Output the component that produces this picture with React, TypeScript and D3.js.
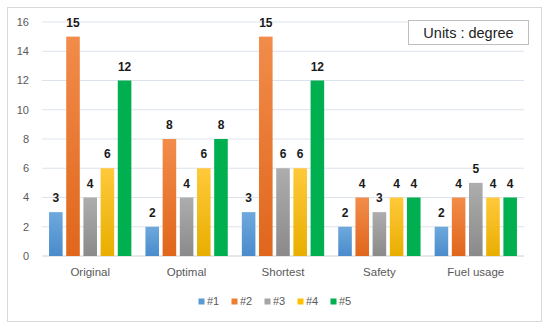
import React from "react";
import * as d3 from "d3";

const categories = ["Original", "Optimal", "Shortest", "Safety", "Fuel usage"];
const seriesNames = ["#1", "#2", "#3", "#4", "#5"];
const s1 = [3, 2, 3, 2, 2];
const s2 = [15, 8, 15, 4, 4];
const s3 = [4, 4, 6, 3, 5];
const s4 = [6, 6, 6, 4, 4];
const s5 = [12, 8, 12, 4, 4];
const seriesValues = [s1, s2, s3, s4, s5];
const yTicks = [0, 2, 4, 6, 8, 10, 12, 14, 16];

const colorsTop = ["#6EA9DD", "#F28C4A", "#ADADAD", "#FFC93A", "#00B050"];
const colorsBottom = ["#4A8BCB", "#E0661C", "#8A8A8A", "#E8AE00", "#00B050"];
const legendColors = ["#5B9BD5", "#ED7D31", "#A5A5A5", "#FFC000", "#00B050"];

export default function App() {
  const W = 550, H = 332;
  const left = 42, right = 524, top = 22, bottom = 256;
  const x0 = d3.scaleBand<string>().domain(categories).range([left, right]).paddingInner(0.146).paddingOuter(0.073);
  const x1 = d3.scaleBand<string>().domain(seriesNames).range([0, x0.bandwidth()]).paddingInner(0.21);
  const y = d3.scaleLinear().domain([0, 16]).range([bottom, top]);
  const font = "'Liberation Sans', Arial, sans-serif";

  return (
    <svg width={W} height={H} style={{ position: "absolute", left: 0, top: 0 }} fontFamily={font}>
      <defs>
        {seriesNames.map((s, i) => (
          <linearGradient key={s} id={`g${i}`} x1="0" y1="0" x2="0" y2="1">
            <stop offset="0" stopColor={colorsTop[i]} />
            <stop offset="1" stopColor={colorsBottom[i]} />
          </linearGradient>
        ))}
      </defs>
      <rect x={0} y={0} width={W} height={H} fill="#fff" />
      <rect x={7.5} y={7.5} width={534} height={314} fill="#fff" stroke="#D9D9D9" strokeWidth={1} />
      {yTicks.map((t) => (
        <g key={t}>
          <line x1={left} x2={right} y1={y(t)} y2={y(t)} stroke={t === 0 ? "#D0D0D0" : "#DDE3EC"} strokeWidth={1} />
          <text x={29} y={y(t)} dy="0.35em" textAnchor="end" fontSize={11} fill="#595959">{t}</text>
        </g>
      ))}
      {categories.map((c, ci) => (
        <g key={c}>
          {seriesNames.map((s, si) => {
            const v = seriesValues[si][ci];
            const bx = (x0(c) as number) + (x1(s) as number);
            return (
              <g key={s}>
                <rect x={bx} y={y(v)} width={x1.bandwidth()} height={y(0) - y(v)} fill={`url(#g${si})`} />
                <text x={bx + x1.bandwidth() / 2} y={y(v) - 10} textAnchor="middle" fontSize={12} fontWeight="bold" fill="#1a1a1a">{v}</text>
              </g>
            );
          })}
          <text x={(x0(c) as number) + x0.bandwidth() / 2} y={276} textAnchor="middle" fontSize={11.5} fill="#595959">{c}</text>
        </g>
      ))}
      {seriesNames.map((s, i) => (
        <g key={s} transform={`translate(${198.5 + i * 33},0)`}>
          <rect x={0} y={298.5} width={6} height={6} fill={legendColors[i]} />
          <text x={8.5} y={301.5} dy="0.35em" fontSize={11} fill="#595959">{s}</text>
        </g>
      ))}
      <rect x={408.5} y={20.5} width={120} height={24} fill="#fff" stroke="#BFBFBF" strokeWidth={1} />
      <text x={468.5} y={33} dy="0.35em" textAnchor="middle" fontSize={14.5} fill="#222">Units : degree</text>
    </svg>
  );
}
